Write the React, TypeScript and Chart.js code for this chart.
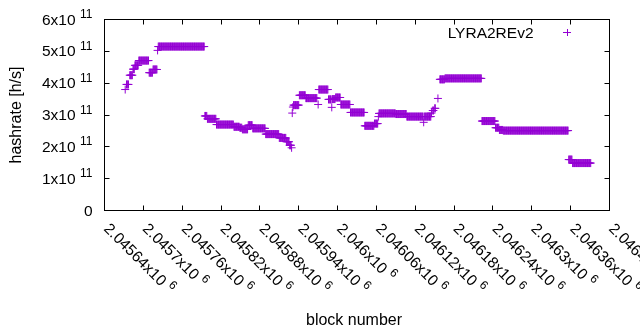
import React, { useEffect, useRef } from 'react';
import { Chart, registerables } from 'chart.js';

Chart.register(...registerables);

// Runs of consecutive blocks sharing the same hashrate
const runStartBlock = [
  2045672, 2045674, 2045679, 2045684, 2045687, 2045693, 2045709, 2045715, 2045722, 2045723,
  2045795, 2045799, 2045813, 2045840, 2045849, 2045853, 2045862, 2045869, 2045889, 2045910,
  2045921, 2045926, 2045929, 2045930, 2045931, 2045932, 2045941, 2045951, 2045970, 2045971,
  2045986, 2045991, 2045992, 2045997, 2046005, 2046020, 2046042, 2046057, 2046063, 2046064,
  2046090, 2046107, 2046133, 2046134, 2046145, 2046147, 2046150, 2046155, 2046158, 2046166,
  2046223, 2046244, 2046250, 2046256, 2046357, 2046363,
];
const runEndBlock = [
  2045672, 2045677, 2045683, 2045686, 2045692, 2045708, 2045714, 2045721, 2045722, 2045794,
  2045798, 2045812, 2045839, 2045848, 2045852, 2045861, 2045868, 2045888, 2045909, 2045920,
  2045925, 2045928, 2045929, 2045930, 2045931, 2045940, 2045950, 2045968, 2045970, 2045985,
  2045990, 2045991, 2045996, 2046004, 2046019, 2046041, 2046056, 2046062, 2046063, 2046089,
  2046106, 2046132, 2046133, 2046144, 2046145, 2046148, 2046151, 2046155, 2046165, 2046222,
  2046243, 2046249, 2046255, 2046356, 2046362, 2046391,
];
// hashrate in units of 1e11 h/s
const runHashrate = [
  3.80, 3.96, 4.25, 4.44, 4.56, 4.71, 4.33, 4.43, 5.03, 5.15,
  2.97, 2.88, 2.70, 2.63, 2.60, 2.55, 2.68, 2.58, 2.40, 2.28,
  2.16, 2.05, 1.97, 3.06, 3.25, 3.31, 3.62, 3.53, 3.33, 3.80,
  3.49, 3.24, 3.50, 3.55, 3.33, 3.08, 2.66, 2.73, 2.95, 3.05,
  3.03, 2.95, 2.77, 2.95, 3.06, 3.14, 3.21, 3.52, 4.12, 4.15,
  2.81, 2.60, 2.53, 2.51, 1.60, 1.49,
];

// x tick positions (block numbers) and y tick positions (in 1e11 h/s)
const xTickBlocks = [
  2045640, 2045700, 2045760, 2045820, 2045880, 2045940, 2046000,
  2046060, 2046120, 2046180, 2046240, 2046300, 2046360, 2046420,
];
const yTickMantissas = [0, 1, 2, 3, 4, 5, 6];

const seriesLabel = 'LYRA2REv2';
const xTitle = 'block number';
const yTitle = 'hashrate [h/s]';
const xMin = 2045640;
const xMax = 2046420;
const yMin = 0;
const yMax = 6e11;

const COLOR = '#9400D3';
const FONT = '"Liberation Sans", Arial, sans-serif';

function buildPoints() {
  const pts: { x: number; y: number }[] = [];
  for (let i = 0; i < runStartBlock.length; i++) {
    for (let b = runStartBlock[i]; b <= runEndBlock[i]; b++) {
      pts.push({ x: b, y: runHashrate[i] * 1e11 });
    }
  }
  return pts;
}

const gnuplotFrame = {
  id: 'gnuplotFrame',
  afterDraw(chart: any) {
    const { ctx, chartArea: a, scales } = chart;
    const xs = scales.x;
    const ys = scales.y;
    ctx.save();
    ctx.strokeStyle = '#000';
    ctx.lineWidth = 1;
    // border
    ctx.strokeRect(a.left, a.top, a.right - a.left, a.bottom - a.top);
    const tl = 5;
    ctx.beginPath();
    ys.ticks.forEach((t: any) => {
      const py = Math.floor(ys.getPixelForValue(t.value)) + 0.5;
      ctx.moveTo(a.left, py);
      ctx.lineTo(a.left + tl, py);
      ctx.moveTo(a.right, py);
      ctx.lineTo(a.right - tl, py);
    });
    xs.ticks.forEach((t: any) => {
      const px = Math.floor(xs.getPixelForValue(t.value)) + 0.5;
      ctx.moveTo(px, a.bottom);
      ctx.lineTo(px, a.bottom - tl);
      ctx.moveTo(px, a.top);
      ctx.lineTo(px, a.top + tl);
    });
    ctx.stroke();

    ctx.fillStyle = '#000';
    ctx.textBaseline = 'alphabetic';
    const mainFont = `15.5px ${FONT}`;
    const supFont = `12px ${FONT}`;
    // y tick labels
    const labelRight = 92.5;
    ys.ticks.forEach((t: any) => {
      const py = ys.getPixelForValue(t.value);
      const m = Math.round(t.value / 1e11);
      if (m === 0) {
        ctx.font = mainFont;
        ctx.textAlign = 'right';
        ctx.fillText('0', labelRight, py + 5);
        return;
      }
      ctx.font = supFont;
      const sup = '11';
      const sw = ctx.measureText(sup).width;
      ctx.textAlign = 'left';
      ctx.fillText(sup, labelRight - sw, py - 1.5);
      ctx.font = mainFont;
      ctx.textAlign = 'right';
      ctx.fillText(`${m}x10`, labelRight - sw - 4.5, py + 5);
    });
    // x tick labels rotated
    xs.ticks.forEach((t: any) => {
      const px = xs.getPixelForValue(t.value);
      const mant = String(Number((t.value / 1e6).toFixed(5)));
      ctx.save();
      ctx.translate(px - 1.5, 229.5);
      ctx.rotate(Math.PI / 4);
      ctx.font = mainFont;
      ctx.textAlign = 'left';
      const main = `${mant}x10`;
      ctx.fillText(main, 0, 0);
      const mw = ctx.measureText(main).width;
      ctx.font = supFont;
      ctx.fillText('6', mw + 4.5, -6.5);
      ctx.restore();
    });
    // axis titles
    ctx.font = `16px ${FONT}`;
    ctx.textAlign = 'center';
    ctx.fillText(xTitle, 354, 325);
    ctx.save();
    ctx.translate(21, 115);
    ctx.rotate(-Math.PI / 2);
    ctx.fillText(yTitle, 0, 0);
    ctx.restore();
    // legend
    ctx.font = `15.5px ${FONT}`;
    ctx.textAlign = 'right';
    ctx.fillText(seriesLabel, 533.5, 37.5);
    ctx.strokeStyle = COLOR;
    ctx.beginPath();
    ctx.moveTo(563, 32.5);
    ctx.lineTo(571, 32.5);
    ctx.moveTo(567.5, 29);
    ctx.lineTo(567.5, 36);
    ctx.stroke();
    ctx.restore();
  },
};

export default function App() {
  const ref = useRef<HTMLCanvasElement | null>(null);
  useEffect(() => {
    if (!ref.current) return;
    const chart = new Chart(ref.current, {
      type: 'scatter',
      data: {
        datasets: [
          {
            label: seriesLabel,
            data: buildPoints(),
            pointStyle: 'cross',
            pointRadius: 4,
            pointHoverRadius: 4,
            pointBorderWidth: 1,
            borderColor: COLOR,
            backgroundColor: COLOR,
            showLine: false,
          },
        ],
      },
      options: {
        animation: false,
        responsive: false,
        maintainAspectRatio: false,
        devicePixelRatio: 1,
        events: [],
        layout: { padding: { left: 104.5, right: 30.5, top: 19.5, bottom: 119.5 } },
        plugins: { legend: { display: false }, tooltip: { enabled: false } },
        scales: {
          x: {
            type: 'linear',
            display: false,
            min: xMin,
            max: xMax,
            ticks: { autoSkip: false },
            afterBuildTicks: (scale: any) => {
              scale.ticks = xTickBlocks.map((v) => ({ value: v }));
            },
          },
          y: {
            type: 'linear',
            display: false,
            min: yMin,
            max: yMax,
            ticks: { autoSkip: false },
            afterBuildTicks: (scale: any) => {
              scale.ticks = yTickMantissas.map((m) => ({ value: m * 1e11 }));
            },
          },
        },
      },
      plugins: [gnuplotFrame],
    });
    return () => chart.destroy();
  }, []);
  return (
    <div style={{ position: 'absolute', left: 0, top: 0, width: 640, height: 330, background: '#fff' }}>
      <canvas ref={ref} width={640} height={330} style={{ display: 'block', width: 640, height: 330 }} />
    </div>
  );
}
